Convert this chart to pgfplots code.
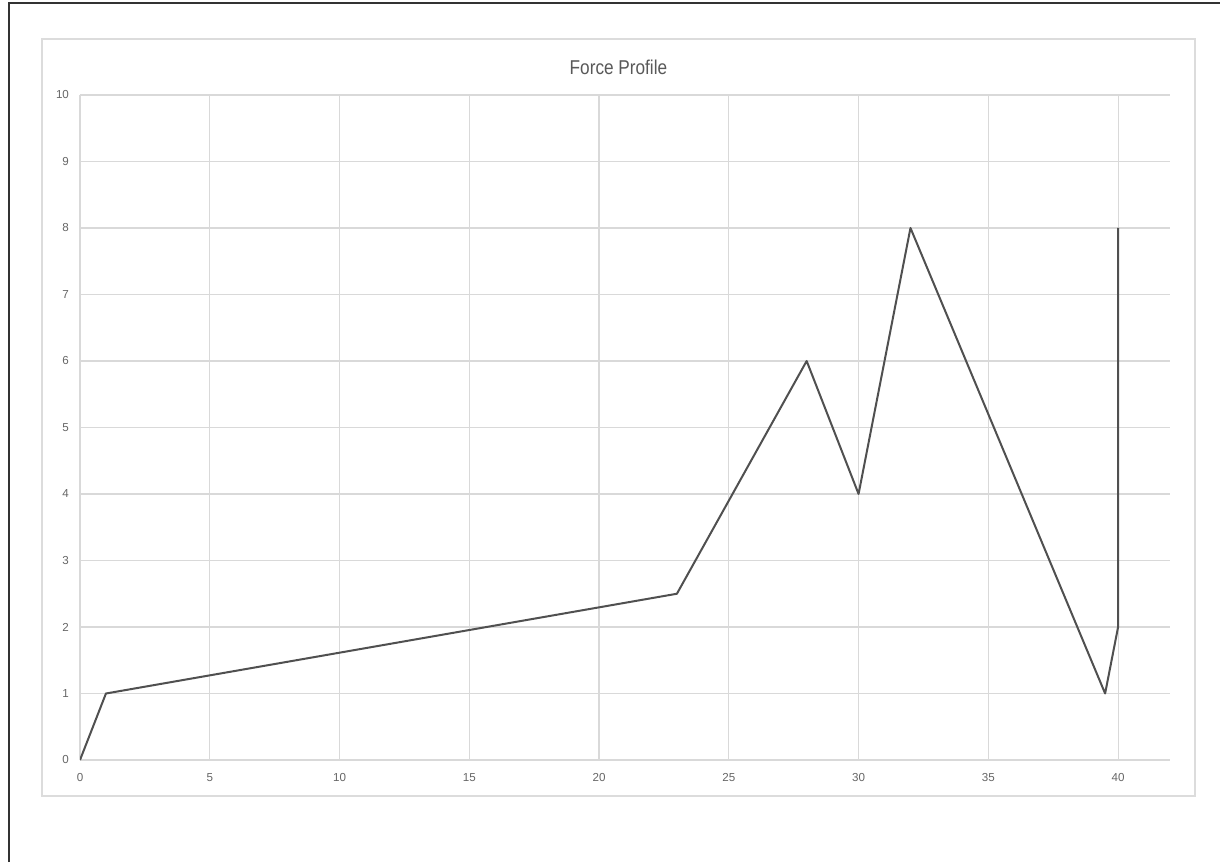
\documentclass[border=0pt]{standalone}
\usepackage{fontspec}
\setmainfont{Liberation Sans}
\newfontfamily\narrowfont[FakeStretch=0.86]{Liberation Sans}
\usepackage{pgfplots}
\pgfplotsset{compat=1.18}
\definecolor{gridgray}{HTML}{D9D9D9}
\definecolor{boxgray}{HTML}{DCDCDC}
\definecolor{labelgray}{HTML}{666666}
\definecolor{linegray}{HTML}{505050}
\begin{document}
\begin{tikzpicture}
% page: 1220x862 px at 0.5pt per px
\useasboundingbox[fill=white] (0,0) rectangle (610pt,431pt);
\draw[black!80, line width=1pt] (4.5pt,0) -- (4.5pt,429.5pt) -- (610pt,429.5pt);
\draw[boxgray, line width=0.8pt] (21pt,33pt) rectangle (597.5pt,411.5pt);
\begin{axis}[
    at={(40pt,51pt)}, anchor=south west,
    scale only axis,
    width=545pt, height=332.5pt,
    xmin=0, xmax=42, ymin=0, ymax=10,
    xtick={0,5,...,40}, ytick={0,1,...,10},
    axis x line*=bottom, axis y line*=left,
    axis line style={gridgray, line width=0.6pt},
    grid=major,
    major grid style={gridgray, line width=0.6pt},
    major tick length=0pt,
    tick label style={font=\fontsize{5.8}{6.5}\selectfont, text=labelgray},
    /pgf/number format/assume math mode=true,
    xticklabel style={yshift=-3pt},
    yticklabel style={xshift=-2pt},
    title={Force Profile},
    title style={font=\narrowfont\fontsize{10}{12}\selectfont, text=black!65,
        at={(0.494,1)}, anchor=center, yshift=8pt},
]
\addplot[linegray, line width=1pt, line join=round] coordinates {
    (0,0) (1,1) (23,2.5) (28,6) (30,4) (32,8) (39.5,1) (40,2) (40,8)
};
\end{axis}
\end{tikzpicture}
\end{document}
